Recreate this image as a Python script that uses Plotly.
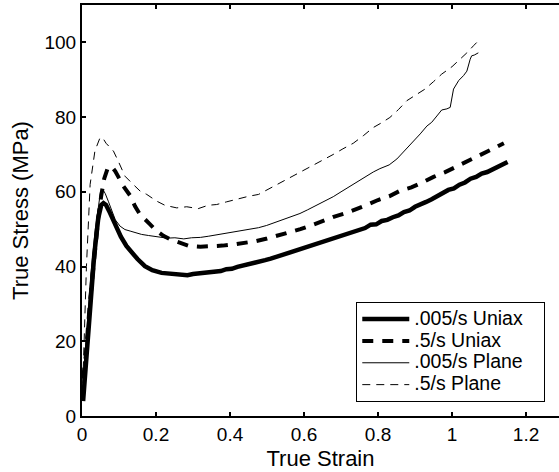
import plotly.graph_objects as go

# .005/s Uniax (thick solid)
strain_u1 = [0.003, 0.010, 0.022, 0.033, 0.044, 0.052, 0.058, 0.065, 0.075, 0.09, 0.105, 0.12, 0.135, 0.15,
             0.17, 0.19, 0.215, 0.24, 0.255, 0.27, 0.285, 0.30, 0.315, 0.33, 0.345, 0.36, 0.375, 0.39, 0.405,
             0.42, 0.435, 0.45, 0.465, 0.48, 0.495, 0.51, 0.525, 0.54, 0.555, 0.57, 0.585, 0.60, 0.615,
             0.63, 0.645, 0.66, 0.675, 0.69, 0.705, 0.72, 0.735, 0.75, 0.765, 0.78, 0.795, 0.81, 0.825,
             0.84, 0.855, 0.87, 0.885, 0.90, 0.915, 0.93, 0.945, 0.96, 0.975, 0.99, 1.005, 1.02, 1.035,
             1.05, 1.065, 1.08, 1.095, 1.11, 1.12, 1.13, 1.14, 1.15]
stress_u1 = [4, 14, 31, 43, 53, 56.5, 57, 56.5, 54.5, 51, 48, 45.5, 43.7, 42,
             40.1, 39, 38.3, 38, 37.8, 37.9, 37.7, 38.0, 38.1, 38.3, 38.4, 38.7, 38.8, 39.3, 39.4,
             39.9, 40.2, 40.6, 40.9, 41.3, 41.7, 42.1, 42.6, 43.0, 43.5, 44.0, 44.4, 45.1, 45.3,
             46.1, 46.4, 47.1, 47.4, 48.0, 48.5, 49.0, 49.4, 50.1, 50.3, 51.2, 51.3, 52.2, 52.5,
             53.2, 53.7, 54.6, 55.0, 56.0, 56.5, 57.3, 58.0, 58.9, 59.5, 60.5, 60.9, 61.9, 62.5,
             63.5, 64.0, 64.9, 65.3, 66.0, 66.3, 66.9, 67.3, 68]

# .5/s Uniax (thick dashed)
strain_u2 = [0.003, 0.010, 0.022, 0.033, 0.044, 0.052, 0.060, 0.070, 0.080, 0.09, 0.10, 0.112, 0.13, 0.143,
             0.157, 0.17, 0.184, 0.202, 0.22, 0.24, 0.26, 0.29, 0.32, 0.35, 0.38, 0.41, 0.44, 0.47, 0.50,
             0.53, 0.56, 0.59, 0.62, 0.65, 0.68, 0.71, 0.74, 0.77, 0.80, 0.83, 0.86, 0.89, 0.92, 0.95, 0.98,
             1.01, 1.04, 1.07, 1.10, 1.12, 1.14]
stress_u2 = [10, 16, 31, 43, 53, 59, 63.5, 66.5, 66.8, 65.5, 63.8, 61.5, 59, 56.2,
             53.9, 52.5, 51.3, 49.5, 48.2, 47.2, 46.6, 45.5, 45.3, 45.4, 45.6, 45.9, 46.3, 46.8, 47.5,
             48.3, 49, 50, 51, 52.2, 53.3, 54.2, 55.3, 56.5, 57.8, 58.8, 60.3, 61.2, 62.5, 64, 65.2,
             66.6, 68, 69.5, 71, 72, 73]

# .005/s Plane (thin solid)
strain_p1 = [0.002, 0.012, 0.024, 0.036, 0.045, 0.050, 0.056, 0.063, 0.071, 0.08, 0.09, 0.103, 0.116, 0.13,
             0.145, 0.161, 0.18, 0.206, 0.23, 0.251, 0.275, 0.296, 0.32, 0.341, 0.364, 0.386, 0.409, 0.43,
             0.454, 0.477, 0.499, 0.52, 0.544, 0.566, 0.589, 0.61, 0.634, 0.656, 0.679, 0.70, 0.724, 0.747,
             0.77, 0.787, 0.805, 0.814, 0.83, 0.851, 0.868, 0.886, 0.90, 0.914, 0.932, 0.945, 0.959, 0.972,
             0.986, 0.995, 1.004, 1.018, 1.031, 1.04, 1.049, 1.053, 1.06, 1.071]
stress_p1 = [8, 22, 38, 50, 57, 60, 60.7, 59.5, 57.5, 55, 52.5, 50.8, 49.9, 49.5,
             49, 48.6, 48.3, 48, 47.6, 47.7, 47.4, 47.7, 47.8, 48.1, 48.5, 48.8, 49.3, 49.6,
             49.9, 50.4, 51, 51.7, 52.6, 53.3, 54.2, 55.2, 56.4, 57.5, 58.7, 60, 61.5, 62.8,
             64.2, 65.3, 66.2, 66.6, 67.2, 68.8, 70.6, 72.5, 73.8, 75.5, 77.6, 78.6, 80.3, 81.9,
             82.2, 82.6, 87.5, 89.8, 91.1, 92.3, 95.5, 96.4, 96.6, 97.2]

# .5/s Plane (thin dashed)
strain_p2 = [0.001, 0.006, 0.012, 0.022, 0.035, 0.048, 0.055, 0.065, 0.075, 0.085, 0.098, 0.116, 0.134,
             0.157, 0.175, 0.202, 0.224, 0.256, 0.283, 0.314, 0.341, 0.364, 0.39, 0.41, 0.427, 0.45,
             0.477, 0.50, 0.526, 0.55, 0.58, 0.605, 0.63, 0.655, 0.679, 0.705, 0.733, 0.76, 0.787, 0.81,
             0.832, 0.855, 0.878, 0.90, 0.927, 0.95, 0.972, 1.0, 1.022, 1.04, 1.058, 1.067, 1.072]
stress_p2 = [5, 20, 40, 62, 71, 74.3, 74.6, 73, 71.8, 70.9, 68.2, 64.2, 62.4,
             60.2, 59.3, 57.5, 56.4, 55.7, 56.0, 55.5, 56.4, 56.6, 57.3, 57.8, 58.4, 58.8,
             59.3, 60.5, 62, 63.2, 64.7, 66, 67.4, 68.7, 70, 71.5, 73, 75, 77.2, 78.5,
             79.9, 82, 84.4, 85.8, 87.5, 89.5, 91.5, 93.5, 95.5, 97.2, 99.1, 100, 100.5]

x_ticks = [0, 0.2, 0.4, 0.6, 0.8, 1.0, 1.2]
x_tick_labels = ["0", "0.2", "0.4", "0.6", "0.8", "1", "1.2"]
y_ticks = [0, 20, 40, 60, 80, 100]
y_tick_labels = ["0", "20", "40", "60", "80", "100"]

series = [
    (".005/s Uniax", strain_u1, stress_u1, 4.5, "solid"),
    (".5/s Uniax", strain_u2, stress_u2, 4, "11px,9px"),
    (".005/s Plane", strain_p1, stress_p1, 1, "solid"),
    (".5/s Plane", strain_p2, stress_p2, 1, "8px,6px"),
]

FONT = "Liberation Sans, Arial, Helvetica, sans-serif"

fig = go.Figure()
for name, xs, ys, w, dash in series:
    label = ('<span style="font-size:19.5px">' + name +
             '<span style="color:rgba(255,255,255,0)">M</span></span>')
    fig.add_trace(go.Scatter(x=xs, y=ys, mode="lines", name=label,
                             line=dict(color="black", width=w, dash=dash)))

fig.update_layout(
    width=559, height=472,
    margin=dict(l=82, r=0, t=5, b=56),
    paper_bgcolor="white", plot_bgcolor="white",
    font=dict(family=FONT, size=19, color="black"),
    showlegend=True,
    legend=dict(x=0.575, y=0.277, xanchor="left", yanchor="top",
                bordercolor="black", borderwidth=1, bgcolor="white",
                font=dict(family=FONT, size=14.5, color="black"),
                itemwidth=47, tracegroupgap=0),
)
fig.update_xaxes(range=[0, 1.289], tickvals=x_ticks, ticktext=x_tick_labels,
                 ticks="inside", ticklen=4, tickwidth=1.5, tickcolor="black", showline=True,
                 linecolor="black", linewidth=2, mirror="ticks", showgrid=False,
                 zeroline=False, tickfont=dict(size=19),
                 title=dict(text="True Strain", font=dict(size=22), standoff=7))
fig.update_yaxes(range=[0, 110], tickvals=y_ticks, ticktext=y_tick_labels,
                 ticks="inside", ticklen=4, tickwidth=1.5, tickcolor="black", showline=True,
                 linecolor="black", linewidth=2, showgrid=False, zeroline=False,
                 tickfont=dict(size=19),
                 title=dict(text="True Stress (MPa)", font=dict(size=22), standoff=10))

fig.write_html("out.html", config={"displayModeBar": False},
               post_script="document.body.style.margin='0';")
